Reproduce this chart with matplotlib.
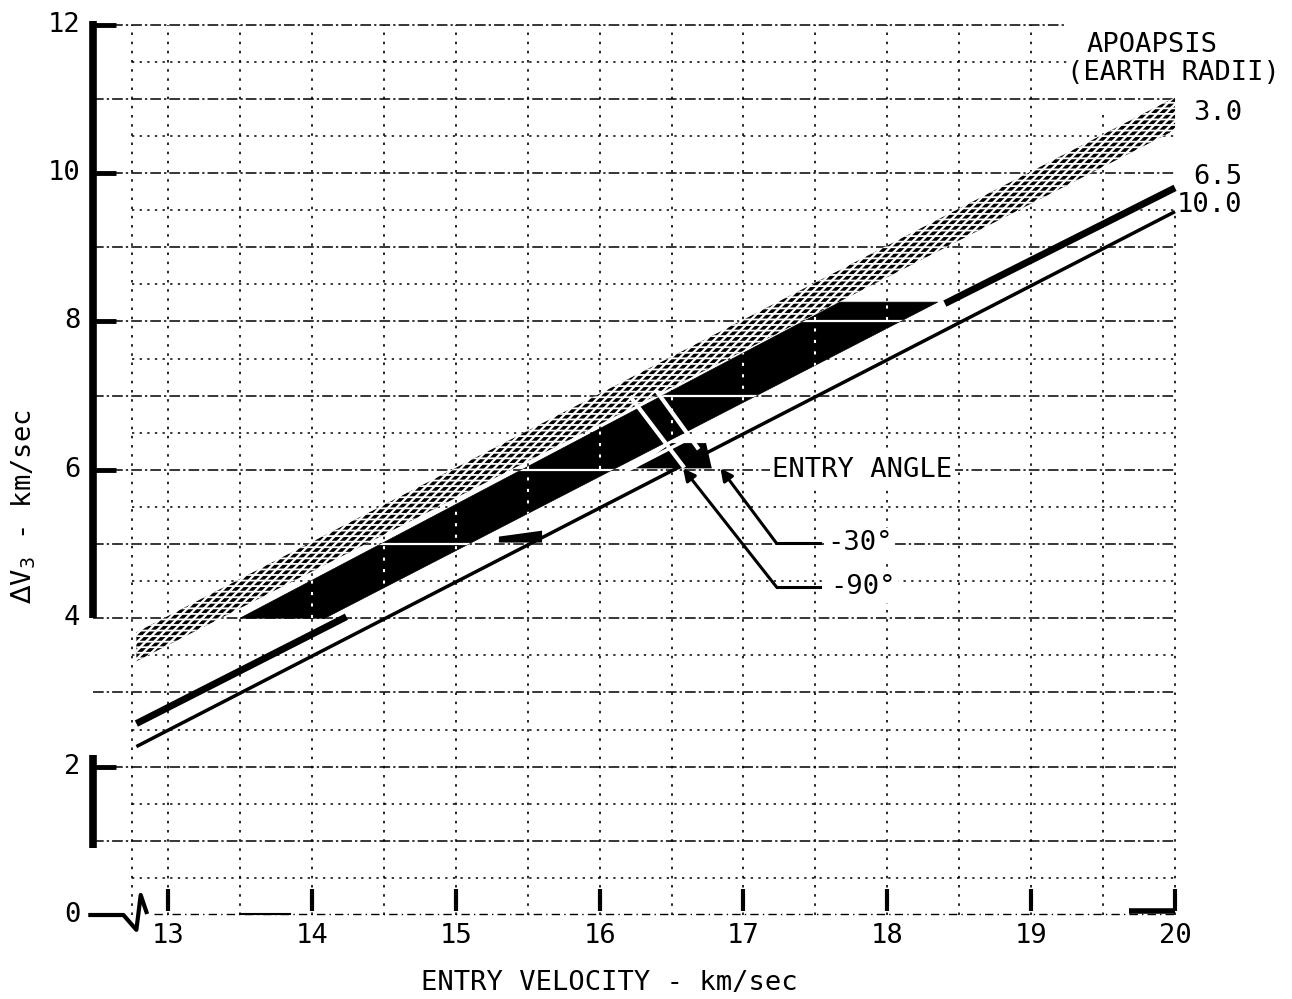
import matplotlib
matplotlib.use('Agg')
import matplotlib.pyplot as plt
from matplotlib.patches import Polygon

plt.rcParams['font.family'] = ['DejaVu Sans Mono', 'DejaVu Sans']

# datos (velocidad de entrada en km/s, dV3 en km/s)
vel_ends = [12.78, 20.0]
apo3_hi = [3.81, 11.02]
apo3_lo = [3.42, 10.58]
apo10 = [2.27, 9.48]
# la linea de 6.5 se ve negra solo en los extremos
apo65_left_x = [12.78, 14.24]
apo65_left_y = [2.58, 4.02]
apo65_right_x = [18.40, 20.0]
apo65_right_y = [8.24, 9.80]

# zona sombreada en negro
shade_x = [13.50, 14.09, 18.35, 17.67]
shade_y = [4.00, 4.00, 8.26, 8.26]
blob_x = [15.30, 15.60, 15.60, 15.30]
blob_y = [5.02, 5.02, 5.18, 5.10]
blob2_x = [16.25, 16.78, 16.74, 16.50]
blob2_y = [6.02, 6.02, 6.36, 6.36]

# marcas blancas del angulo de entrada
mark1_x = [16.22, 16.58]
mark1_y = [6.97, 6.05]
mark2_x = [16.40, 16.68]
mark2_y = [7.05, 6.30]

# lineas de referencia del angulo de entrada
lead30_x = [17.53, 17.23, 16.84]
lead30_y = [5.01, 5.01, 6.02]
lead90_x = [17.53, 17.23, 16.58]
lead90_y = [4.42, 4.42, 6.02]

x_ticks = [13, 14, 15, 16, 17, 18, 19, 20]
y_ticks = [12, 10, 8, 6, 4, 2, 0]
y_tick_marks = [12, 10, 8, 6, 2]

X_AXIS = 12.48
X_END = 20.0
FS = 19.5

fig = plt.figure(figsize=(12.92, 9.99), dpi=100)
ax = fig.add_axes([0, 0, 1, 1])
ax.set_xlim(11.832, 20.813)
ax.set_ylim(-1.132, 12.332)
ax.axis('off')

# cuadricula
grid_h = [v / 2 for v in range(1, 25)]
grid_v = [12.75] + [13 + v / 2 for v in range(0, 15)]
for yv in grid_h:
    x1 = 19.25 if yv >= 11.5 else X_END
    if yv == int(yv):
        ax.plot([X_AXIS, x1], [yv, yv], color='k', lw=1.1,
                ls=(0, (7, 2, 1.5, 2)), zorder=1)
    else:
        ax.plot([12.75, x1], [yv, yv], color='k', lw=1.1,
                ls=(0, (1.5, 3.5)), zorder=1)
for xv in grid_v:
    # las dos ultimas no llegan arriba (dejan sitio a los textos)
    top = 10.8 if xv == 19.5 else (9.5 if xv == 20.0 else 12.0)
    ax.plot([xv, xv], [0.0, top], color='k', lw=1.2,
            ls=(0, (1.5, 4)), zorder=1)

# banda de apoapsis 3.0 rayada
band_x = vel_ends + vel_ends[::-1]
band_y = apo3_hi + apo3_lo[::-1]
plt.rcParams['hatch.linewidth'] = 2.6
hb = Polygon(list(zip(band_x, band_y)), closed=True, facecolor='white',
             edgecolor='k', hatch='////', lw=0, zorder=2)
ax.add_patch(hb)
plt.rcParams['hatch.linewidth'] = 1.3
hw = Polygon(list(zip(band_x, band_y)), closed=True, facecolor='none',
             edgecolor='white', hatch='---', lw=0, zorder=2.1)
ax.add_patch(hw)

# zona negra
shade = Polygon(list(zip(shade_x, shade_y)), closed=True, facecolor='k',
                edgecolor='k', lw=0.5, zorder=3)
ax.add_patch(shade)
ax.add_patch(Polygon(list(zip(blob_x, blob_y)), closed=True, facecolor='k', lw=0, zorder=3))
ax.add_patch(Polygon(list(zip(blob2_x, blob2_y)), closed=True, facecolor='k', lw=0, zorder=3))

# cuadricula en blanco sobre la zona negra
for yv in [5, 6, 7, 8]:
    ln, = ax.plot([13, 19], [yv, yv], color='white', lw=1.6, zorder=3.5)
    ln.set_clip_path(shade)
for xv in grid_v:
    ln, = ax.plot([xv, xv], [4, 8.3], color='white', lw=1.5,
                  ls=(0, (1.5, 4)), zorder=3.5)
    ln.set_clip_path(shade)

# lineas de apoapsis 6.5 y 10.0
ax.plot(apo65_left_x, apo65_left_y, color='k', lw=5, solid_capstyle='butt', zorder=4)
ax.plot(apo65_right_x, apo65_right_y, color='k', lw=5, solid_capstyle='butt', zorder=4)
ax.plot([16.2, 16.8], [6.0, 6.6], color='white', lw=2.5, zorder=4)
ax.plot(vel_ends, apo10, color='k', lw=2.5, solid_capstyle='butt', zorder=4)

ax.plot(mark1_x, mark1_y, color='white', lw=3, zorder=5)
ax.plot(mark2_x, mark2_y, color='white', lw=3, zorder=5)

# flechas
for lx, ly in [(lead30_x, lead30_y), (lead90_x, lead90_y)]:
    ax.plot(lx[:2], ly[:2], color='k', lw=2.2, zorder=6)
    ax.annotate('', xy=(lx[2], ly[2]), xytext=(lx[1], ly[1]),
                arrowprops=dict(arrowstyle='-|>', color='k', lw=2.2,
                                mutation_scale=18, shrinkA=0, shrinkB=0),
                zorder=6)

# ejes
ax.plot([X_AXIS, X_AXIS], [12.05, 4.0], color='k', lw=5.5, solid_capstyle='butt', zorder=6)
ax.plot([X_AXIS, X_AXIS], [2.15, 0.9], color='k', lw=5.5, solid_capstyle='butt', zorder=6)
for yv in y_tick_marks:
    ax.plot([X_AXIS, 12.64], [yv, yv], color='k', lw=3.5, solid_capstyle='butt', zorder=6)
for yv in y_ticks:
    ax.text(12.39, yv, str(yv), ha='right', va='center', fontsize=FS)

# eje x con simbolo de corte
ax.plot([12.46, 12.69, 12.78, 12.81, 12.85], [0, 0, -0.2, 0.27, 0.04],
        color='k', lw=3, zorder=6)
ax.plot([12.9, X_END], [0.02, 0.02], color='k', lw=1.0, ls=(0, (6, 3, 1, 3)), zorder=6)
ax.plot([13.5, 13.85], [0.02, 0.02], color='k', lw=1.5, zorder=6)
ax.plot([19.68, X_END], [0.05, 0.05], color='k', lw=4, solid_capstyle='butt', zorder=6)
for xv in x_ticks:
    ax.plot([xv, xv], [0.05, 0.35], color='k', lw=3, solid_capstyle='butt', zorder=6)
    ax.text(xv, -0.28, str(xv), ha='center', va='center', fontsize=FS)

# textos
ax.text(16.07, -0.92, 'ENTRY VELOCITY - km/sec', ha='center', va='center', fontsize=FS)
ax.text(12.0, 5.5, r'$\Delta$V$_3$ - km/sec', ha='center', va='center',
        rotation=90, fontsize=FS)
ax.text(19.84, 11.72, 'APOAPSIS', ha='center', va='center', fontsize=FS)
ax.text(19.99, 11.35, '(EARTH RADII)', ha='center', va='center', fontsize=FS)
ax.text(20.47, 10.81, '3.0', ha='right', va='center', fontsize=FS)
ax.text(20.47, 9.95, '6.5', ha='right', va='center', fontsize=FS)
ax.text(20.47, 9.57, '10.0', ha='right', va='center', fontsize=FS)
ax.text(17.2, 6.0, 'ENTRY ANGLE', ha='left', va='center', fontsize=FS, zorder=7,
        bbox=dict(facecolor='white', edgecolor='none', pad=2))
ax.text(17.58, 5.01, '-30°', ha='left', va='center', fontsize=FS, zorder=7,
        bbox=dict(facecolor='white', edgecolor='none', pad=2))
ax.text(17.60, 4.42, '-90°', ha='left', va='center', fontsize=FS, zorder=7,
        bbox=dict(facecolor='white', edgecolor='none', pad=2))

fig.savefig('out.png', dpi=100)
